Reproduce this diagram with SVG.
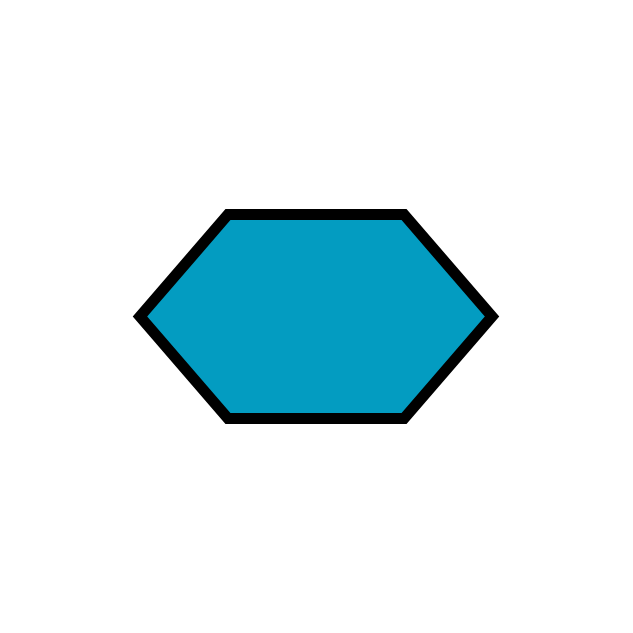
<svg xmlns="http://www.w3.org/2000/svg" width="633" height="633" viewBox="0 0 633 633">
<style>.hex{fill:#039CC1;stroke:#000;stroke-width:11;stroke-linejoin:miter}</style>
<rect width="633" height="633" fill="#fff"/>
<g id="hexagon">
<polygon class="hex" points="228,214.5 404,214.5 492,316.5 404,418.5 228,418.5 140,316.5"/>
</g>
</svg>
